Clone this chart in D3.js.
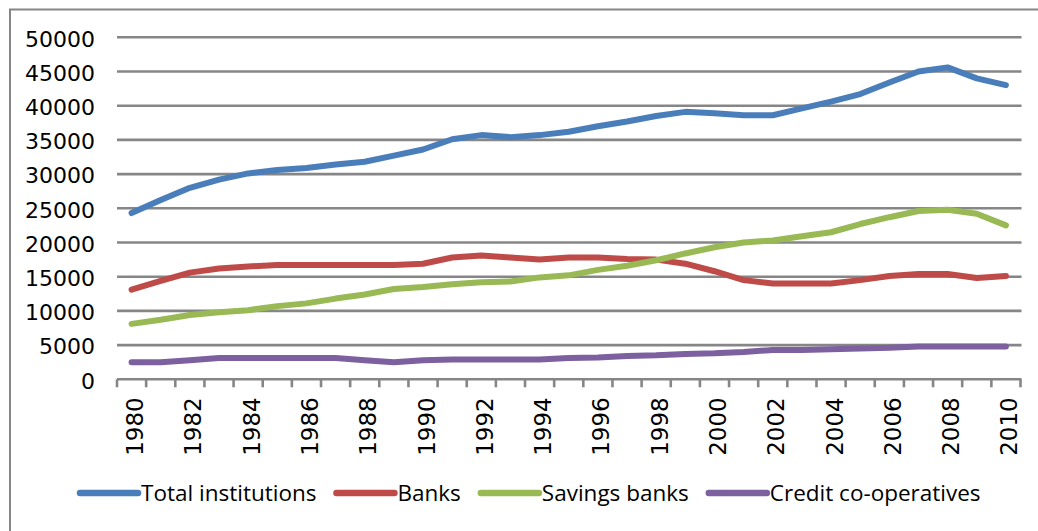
<!DOCTYPE html>
<html>
<head>
<meta charset="utf-8">
<script src="https://cdn.jsdelivr.net/npm/d3@7"></script>
<style>
html, body { margin: 0; padding: 0; background: #fff; }
svg { display: block; }
</style>
</head>
<body>
<svg id="chart" width="1038" height="531"></svg>
<script>
const years = d3.range(1980, 2011);
const yTicks = [0, 5000, 10000, 15000, 20000, 25000, 30000, 35000, 40000, 45000, 50000];
const xTickLabels = years.filter(y => y % 2 === 0);
const seriesNames = ["Total institutions", "Banks", "Savings banks", "Credit co-operatives"];
const seriesColors = ["#4A7EBB", "#BE4B48", "#98B954", "#7D60A0"];

const totalInstitutions = [24300, 26200, 28000, 29200, 30100, 30600, 30900, 31400, 31800, 32700, 33600, 35100, 35700, 35400, 35700, 36200, 37000, 37700, 38500, 39100, 38900, 38600, 38600, 39600, 40600, 41700, 43400, 45000, 45600, 44000, 43000];
const banks = [13100, 14400, 15600, 16200, 16500, 16700, 16700, 16700, 16700, 16700, 16900, 17800, 18100, 17800, 17500, 17800, 17800, 17600, 17500, 16900, 15800, 14500, 14000, 14000, 14000, 14500, 15100, 15400, 15400, 14800, 15100];
const savingsBanks = [8100, 8700, 9400, 9800, 10100, 10700, 11100, 11800, 12400, 13200, 13500, 13900, 14200, 14300, 14900, 15200, 16000, 16600, 17400, 18400, 19300, 20000, 20300, 20900, 21500, 22700, 23700, 24600, 24800, 24200, 22500];
const creditCoops = [2500, 2500, 2800, 3100, 3100, 3100, 3100, 3100, 2800, 2500, 2800, 2900, 2900, 2900, 2900, 3100, 3200, 3400, 3500, 3700, 3800, 4000, 4300, 4300, 4400, 4500, 4600, 4800, 4800, 4800, 4800];

const seriesValues = [totalInstitutions, banks, savingsBanks, creditCoops];

(function () {
const svg = d3.select("#chart");
const gridColor = "#868686";
const tickFont = "'DejaVu Sans', sans-serif";

// outer chart border
svg.append("rect").attr("x", 10).attr("y", 9.5).attr("width", 1100).attr("height", 600)
  .attr("fill", "none").attr("stroke", gridColor).attr("stroke-width", 2);

const plotLeft = 117, plotRight = 1020.5, plotTop = 37.3, plotBottom = 379.3;

const x = d3.scaleBand().domain(years).range([plotLeft, plotRight]).padding(0);
const y = d3.scaleLinear().domain([0, 50000]).range([plotBottom, plotTop]);

// gridlines
svg.append("g").selectAll("line").data(yTicks.filter(v => v > 0)).join("line")
  .attr("x1", plotLeft).attr("x2", plotRight + 1)
  .attr("y1", d => y(d)).attr("y2", d => y(d))
  .attr("stroke", gridColor).attr("stroke-width", 2.6);

// y axis labels
const yAxis = d3.axisLeft(y).tickValues(yTicks).tickFormat(d3.format("d")).tickSize(0).tickPadding(0);
const gy = svg.append("g").attr("transform", `translate(${plotLeft - 22},0)`).call(yAxis);
gy.attr("font-family", tickFont);
gy.select(".domain").remove();
gy.selectAll("text").style("font-family", tickFont).attr("font-size", 22).attr("fill", "#000")
  .attr("dy", "0.4em");

// x axis labels
const xAxis = d3.axisBottom(x).tickValues(xTickLabels).tickSize(0).tickPadding(0);
const gx = svg.append("g").attr("transform", `translate(0,${plotBottom})`).call(xAxis);
gx.attr("font-family", tickFont);
gx.select(".domain").remove();
gx.selectAll("text")
  .style("font-family", tickFont).attr("font-size", 23).attr("fill", "#000")
  .attr("transform", "rotate(-90)")
  .attr("text-anchor", "end")
  .attr("x", -18).attr("y", 0).attr("dy", "0.5em");

// axis line and tick marks (at category boundaries)
svg.append("line").attr("x1", plotLeft).attr("x2", plotRight + 1).attr("y1", plotBottom).attr("y2", plotBottom)
  .attr("stroke", gridColor).attr("stroke-width", 2.6);
const boundaries = years.map(yr => x(yr)).concat([x(years[years.length - 1]) + x.bandwidth()]);
svg.append("g").selectAll("line").data(boundaries).join("line")
  .attr("x1", d => d).attr("x2", d => d)
  .attr("y1", plotBottom).attr("y2", plotBottom + 8)
  .attr("stroke", gridColor).attr("stroke-width", 2.6);

// lines
const line = d3.line()
  .x((d, i) => x(years[i]) + x.bandwidth() / 2)
  .y(d => y(d));

svg.append("g").selectAll("path").data(seriesValues).join("path")
  .attr("d", d => line(d))
  .attr("fill", "none")
  .attr("stroke", (d, i) => seriesColors[i])
  .attr("stroke-width", 6)
  .attr("stroke-linejoin", "round")
  .attr("stroke-linecap", "round");

// legend
const legend = svg.append("g");
let lx = 80;
const ly = 493;
seriesNames.forEach((name, i) => {
  legend.append("line").attr("x1", lx).attr("x2", lx + 58).attr("y1", ly).attr("y2", ly)
    .attr("stroke", seriesColors[i]).attr("stroke-width", 6.5).attr("stroke-linecap", "round");
  const t = legend.append("text").attr("x", lx + 61).attr("y", ly).attr("dy", "0.36em")
    .attr("font-family", "'Open Sans', sans-serif").attr("font-size", 22.5).attr("fill", "#000")
    .text(name);
  const w = t.node().getComputedTextLength();
  lx = lx + 61 + w + 20;
});
})();
</script>
</body>
</html>
